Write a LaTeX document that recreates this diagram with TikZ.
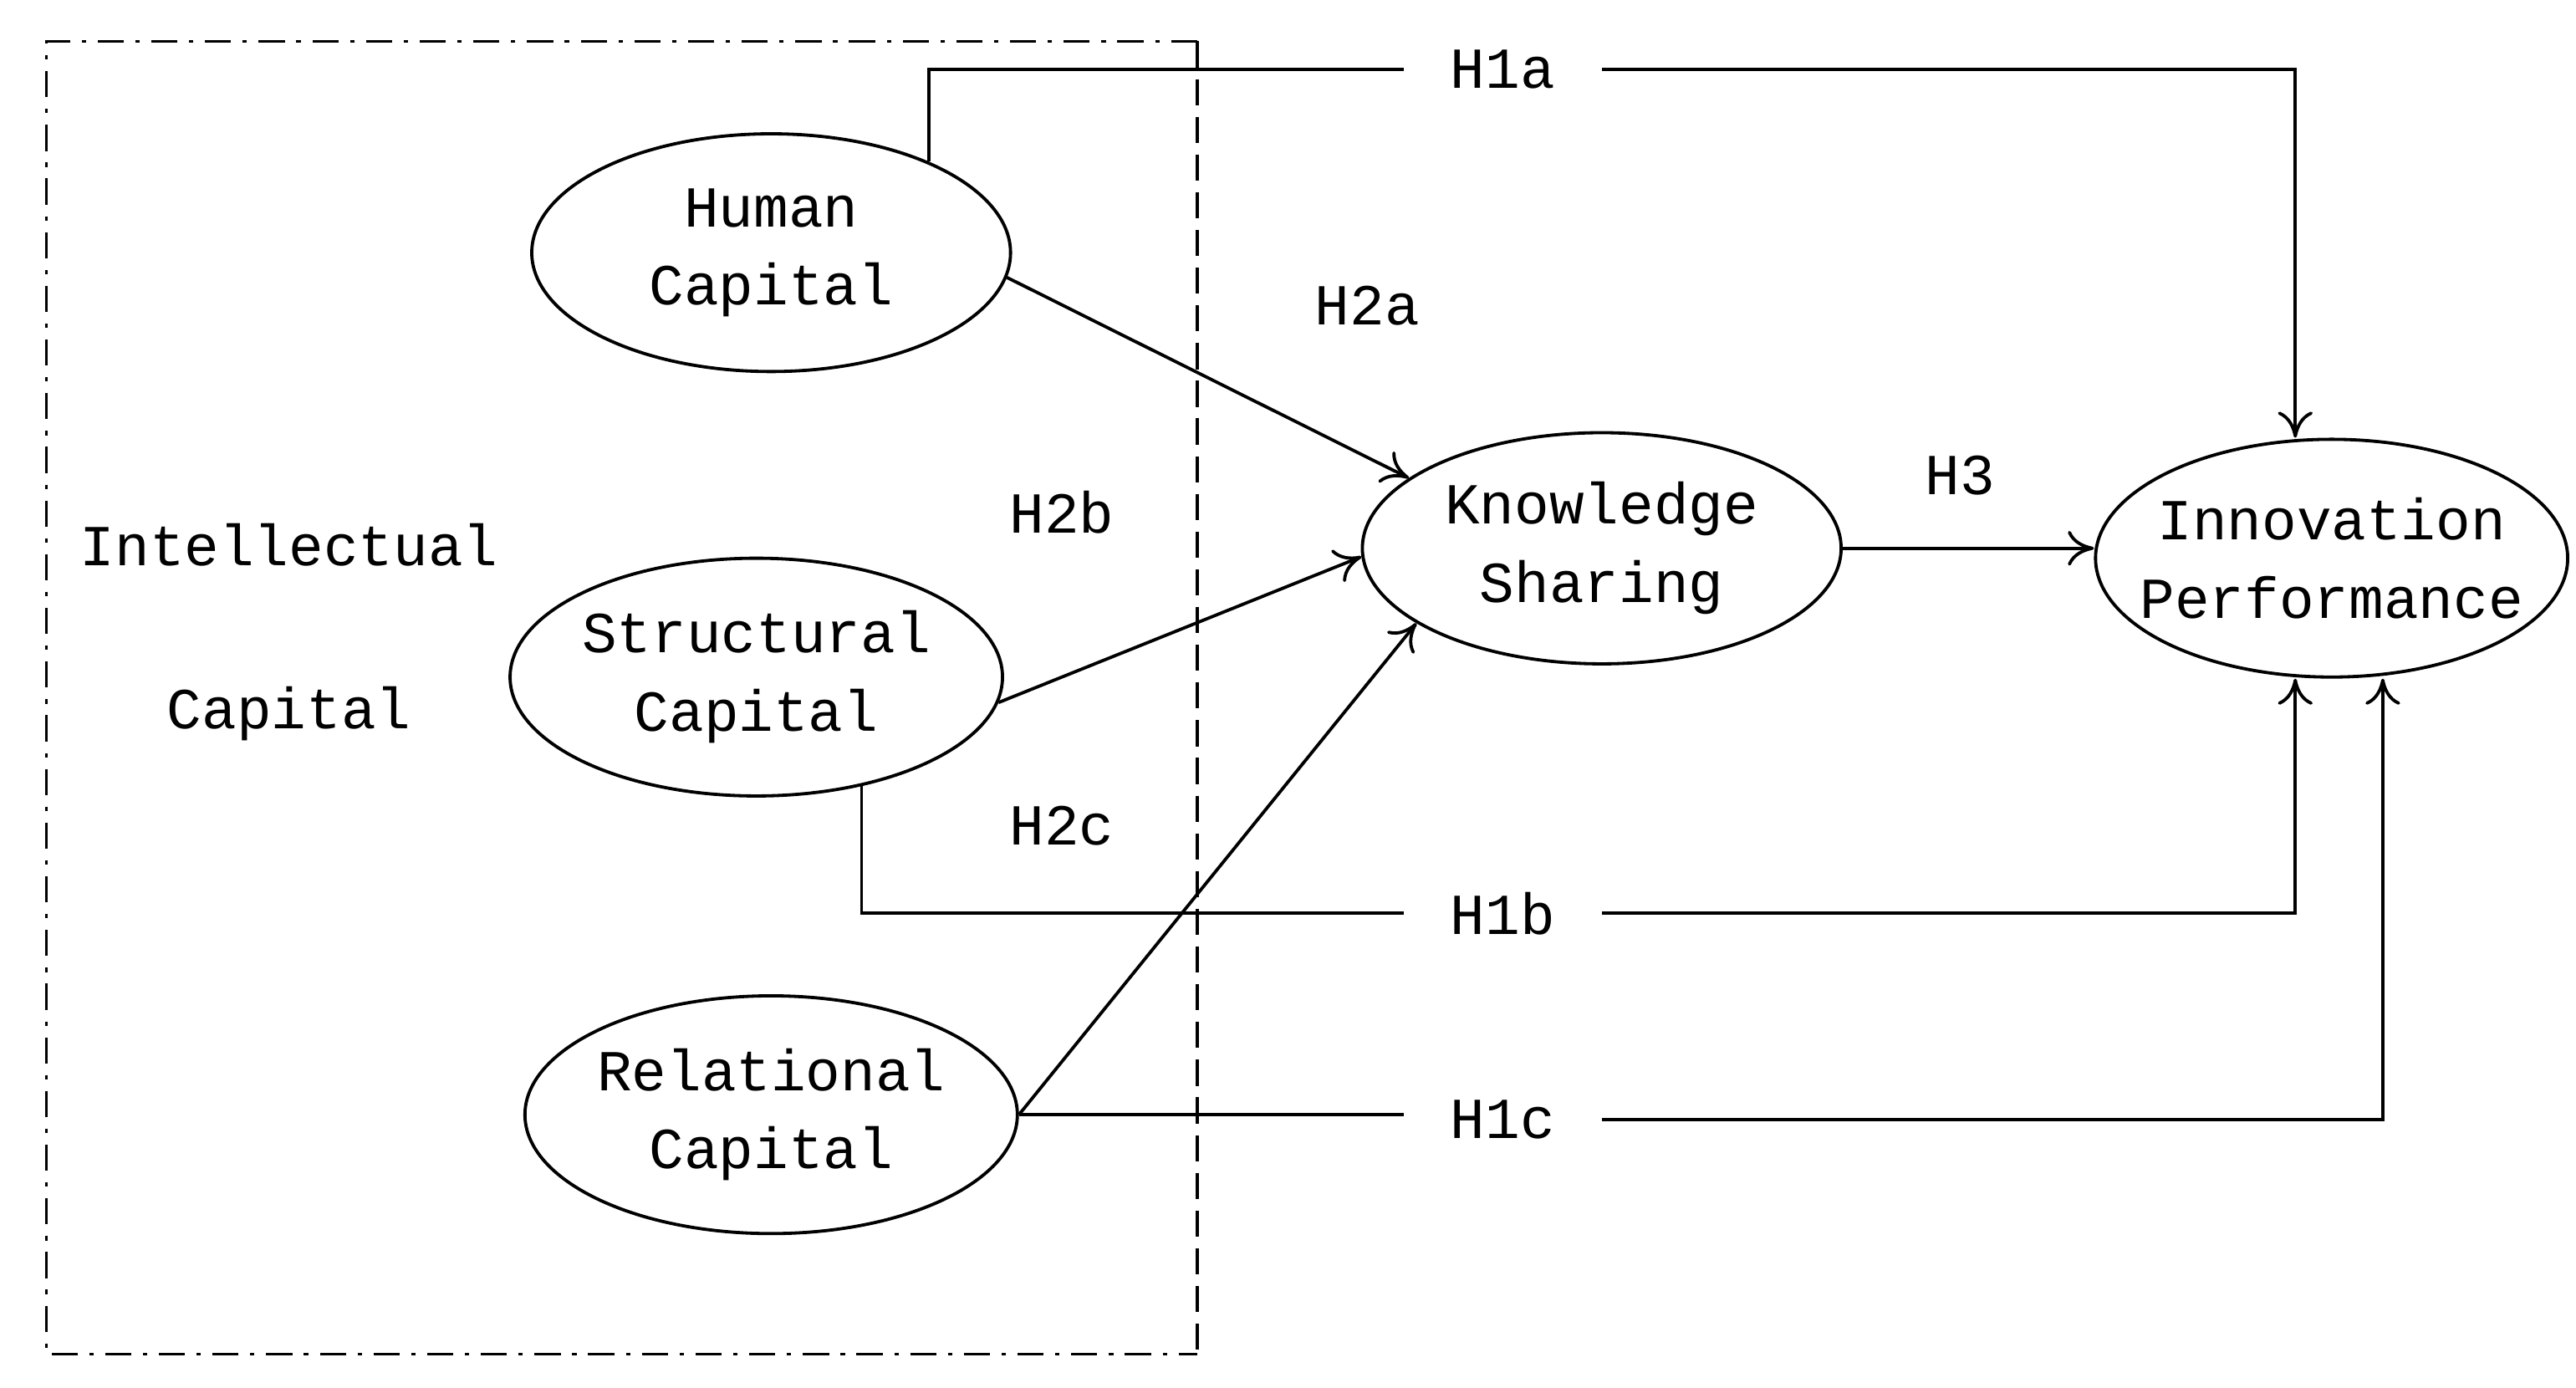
\documentclass[tikz,border=0pt]{standalone}
\usepackage{fontspec}
\setmainfont{Liberation Mono}
\usetikzlibrary{shapes.geometric,arrows.meta,calc}
\begin{document}
\begin{tikzpicture}[x=0.02cm,y=-0.02cm,
  line width=1.1pt,
  every node/.style={font=\fontsize{20}{27}\selectfont},
  ell/.style={ellipse,draw,minimum width=5.8cm,minimum height=2.88cm,inner sep=0pt,align=center},
  lab/.style={inner xsep=0.55cm,inner ysep=2pt},
  arr/.style={-{To[length=9pt,width=12pt]}}]
\useasboundingbox (0,0) rectangle (1560,840);
\draw[line width=1pt,dash pattern=on 9pt off 4pt on 1.5pt off 4pt] (725,25) -- (28,25) -- (28,820) -- (725,820);
\draw[line width=1pt,dash pattern=on 9pt off 4pt] (725,25) -- (725,820);
\node (ic1) at (175,330) {Intellectual};
\node (ic2) at (175,432) {Capital};
\node[ell] (hc) at (467,153) {Human\\Capital};
\node[ell] (sc) at (458,410) {Structural\\Capital};
\node[ell] (rc) at (467,675) {Relational\\Capital};
\node[ell,minimum height=2.8cm] (ks) at (970,332) {Knowledge\\Sharing};
\node[ell,minimum width=5.72cm] (ip) at (1412,338) {\makebox[3.4cm]{Innovation}\\\makebox[3.4cm]{Performance}};
\node[lab] (h1a) at (910,42) {H1a};
\node[lab] (h1b) at (910,553) {H1b};
\node[lab] (h1c) at (910,678) {H1c};
\node (h2a) at (828,185) {H2a};
\node (h2b) at (643,310) {H2b};
\node (h2c) at (643,500) {H2c};
\node (h3) at (1187,288) {H3};
\coordinate (ipt) at ($(ip.north)+(-22,0)$);
\coordinate (ipb1) at ($(ip.south)+(-22,0)$);
\coordinate (ipb2) at ($(ip.south)+(31,0)$);
\draw (hc.30) |- (h1a.west);
\draw[arr] (h1a.east) -| (ipt);
\draw (sc.-46) |- (h1b.west);
\draw[arr] (h1b.east) -| (ipb1);
\draw (rc.east) -- (rc.east -| h1c.west);
\draw[arr] (h1c.east) -| (ipb2);
\draw[arr] (hc.-6) -- (ks.160);
\draw[arr] (sc.-6) -- (ks.182);
\draw[arr] (rc.east) -- (ks.202);
\draw[arr] (ks.east) -- (ks.east -| ip.west);
\end{tikzpicture}
\end{document}
